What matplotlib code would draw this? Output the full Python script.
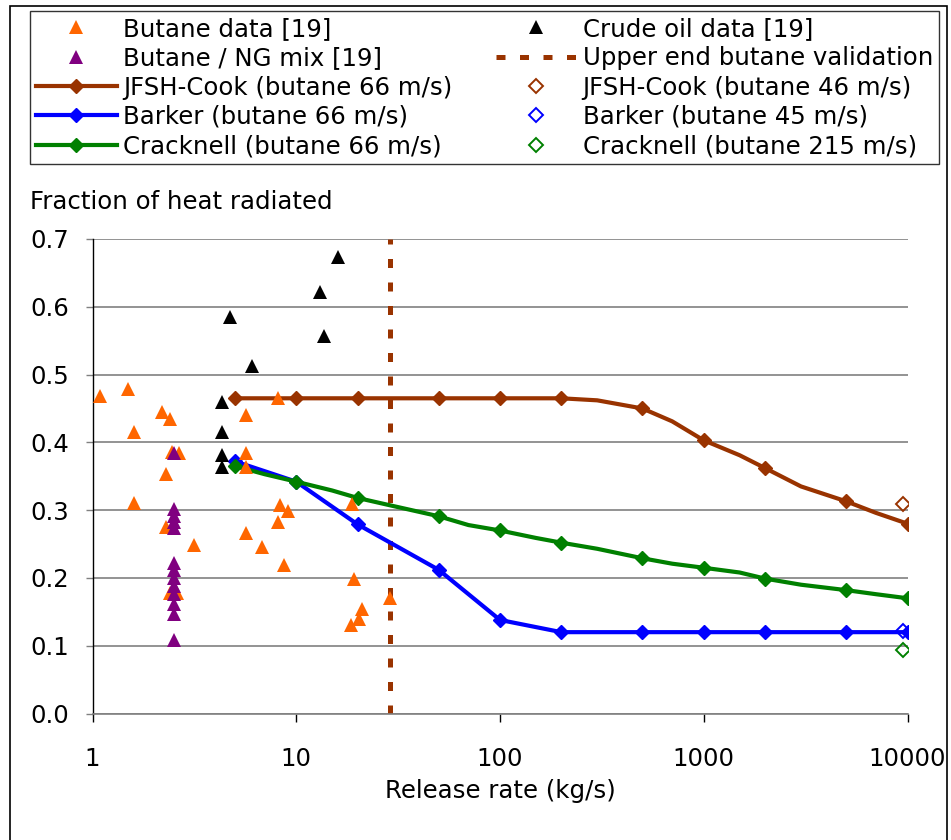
import matplotlib
matplotlib.use("Agg")
import matplotlib.pyplot as plt
from matplotlib.ticker import FixedLocator, FixedFormatter, NullLocator
from matplotlib.patches import Rectangle

# ---------------- data ----------------
butane_rate = [1.09, 1.50, 2.19, 2.40, 1.60, 2.45, 2.67, 2.29, 1.60, 2.30, 3.15,
               2.40, 2.60, 5.68, 5.68, 5.68, 8.16, 8.32, 9.14, 8.16, 5.68, 6.81,
               8.73, 18.8, 19.2, 28.9, 21.1, 20.3, 18.5]
butane_frac = [0.469, 0.478, 0.445, 0.434, 0.416, 0.386, 0.384, 0.353, 0.310, 0.275, 0.249,
               0.178, 0.178, 0.440, 0.384, 0.363, 0.465, 0.308, 0.298, 0.283, 0.266, 0.246,
               0.219, 0.309, 0.198, 0.171, 0.154, 0.140, 0.131]

crude_rate = [4.33, 4.33, 4.33, 4.33, 16.1, 13.1, 4.75, 13.7, 6.08]
crude_frac = [0.460, 0.416, 0.381, 0.364, 0.673, 0.622, 0.585, 0.557, 0.513]

mix_rate = [2.5] * 13
mix_frac = [0.385, 0.302, 0.292, 0.283, 0.274, 0.222, 0.212, 0.200, 0.188, 0.176,
            0.162, 0.147, 0.108]

validation_rate = 29
validation_range = [0.0, 0.7]

model_rate = [5, 7, 10, 15, 20, 30, 50, 70, 100, 150, 200, 300, 500, 700, 1000,
              1500, 2000, 3000, 5000, 7000, 10000]
jfsh_frac = [0.465, 0.465, 0.465, 0.465, 0.465, 0.465, 0.465, 0.465, 0.465, 0.465,
             0.465, 0.462, 0.450, 0.431, 0.403, 0.381, 0.362, 0.335, 0.313, 0.296, 0.280]
cracknell_frac = [0.365, 0.353, 0.342, 0.329, 0.318, 0.306, 0.291, 0.278, 0.270, 0.259,
                  0.252, 0.243, 0.229, 0.221, 0.215, 0.208, 0.199, 0.190, 0.182, 0.176, 0.170]

barker_rate = [5, 10, 20, 50, 100, 200, 500, 1000, 2000, 5000, 10000]
barker_frac = [0.372, 0.342, 0.279, 0.212, 0.138, 0.120, 0.120, 0.120, 0.120, 0.120, 0.120]

alt_rate = [9500]
jfsh_alt = [0.309]
barker_alt = [0.121]
cracknell_alt = [0.094]

x_ticks = [1, 10, 100, 1000, 10000]
x_tick_labels = ["1", "10", "100", "1000", "10000"]
y_ticks = [0.0, 0.1, 0.2, 0.3, 0.4, 0.5, 0.6, 0.7]

# ---------------- style ----------------
FS = 17.6
plt.rcParams['font.family'] = ['DejaVu Sans']
ORANGE = '#FF6600'
PURPLE = '#800080'
BROWN = '#993300'
BLUE = '#0000FF'
GREEN = '#008000'

W, H = 951, 840
fig = plt.figure(figsize=(W / 100, H / 100), dpi=100)
ax = fig.add_axes([92.5 / W, (H - 713.5) / H, 815 / W, 474.5 / H])

ax.set_xscale('log')
ax.set_xlim(1, 10000)
ax.set_ylim(0, 0.7)

LW = 3.0
MS = 7.0
l_jfsh, = ax.plot(model_rate, jfsh_frac, color=BROWN, lw=LW, marker='D', ms=MS,
                  markevery=2, solid_joinstyle='round', zorder=3,
                  label='JFSH-Cook (butane 66 m/s)')
l_barker, = ax.plot(barker_rate, barker_frac, color=BLUE, lw=LW, marker='D', ms=MS,
                    solid_joinstyle='round', zorder=3, label='Barker (butane 66 m/s)')
l_crack, = ax.plot(model_rate, cracknell_frac, color=GREEN, lw=LW, marker='D', ms=MS,
                   markevery=2, solid_joinstyle='round', zorder=3,
                   label='Cracknell (butane 66 m/s)')

h_jfsh_alt, = ax.plot(alt_rate, jfsh_alt, ls='none', marker='D', ms=MS, mfc='none',
                      mec=BROWN, mew=1.4, zorder=4, label='JFSH-Cook (butane 46 m/s)')
h_barker_alt, = ax.plot(alt_rate, barker_alt, ls='none', marker='D', ms=MS, mfc='none',
                        mec=BLUE, mew=1.4, zorder=4, label='Barker (butane 45 m/s)')
h_crack_alt, = ax.plot(alt_rate, cracknell_alt, ls='none', marker='D', ms=MS, mfc='none',
                       mec=GREEN, mew=1.4, zorder=4, label='Cracknell (butane 215 m/s)')

h_val, = ax.plot([validation_rate, validation_rate], validation_range, color=BROWN,
                 lw=3.6, dashes=(1.8, 2.9), zorder=2.5,
                 label='Upper end butane validation')

TMS = 10
h_but, = ax.plot(butane_rate, butane_frac, ls='none', marker='^', ms=TMS, color=ORANGE,
                 mew=0, zorder=5, label='Butane data [19]')
h_crude, = ax.plot(crude_rate, crude_frac, ls='none', marker='^', ms=TMS, color='black',
                   mew=0, zorder=5, label='Crude oil data [19]')
h_mix, = ax.plot(mix_rate, mix_frac, ls='none', marker='^', ms=TMS, color=PURPLE,
                 mew=0, zorder=6, label='Butane / NG mix [19]')

# axes styling
ax.xaxis.set_major_locator(FixedLocator(x_ticks))
ax.xaxis.set_major_formatter(FixedFormatter(x_tick_labels))
ax.xaxis.set_minor_locator(NullLocator())
ax.yaxis.set_major_locator(FixedLocator(y_ticks))
ax.yaxis.set_major_formatter(plt.FuncFormatter(lambda v, p: f"{v:.1f}"))
ax.tick_params(axis='x', direction='out', length=6, width=1, labelsize=FS, pad=18,
               color='black')
ax.tick_params(axis='y', direction='out', length=5, width=1, labelsize=FS, pad=11.5,
               color='#808080')
ax.yaxis.grid(True, color='#808080', lw=1.2, zorder=0)
ax.set_axisbelow(True)
for s in ['top', 'right']:
    ax.spines[s].set_visible(False)
ax.spines['left'].set_color('black')
ax.spines['left'].set_linewidth(1.0)
ax.spines['bottom'].set_color('#808080')
ax.spines['bottom'].set_linewidth(1.2)

ax.set_xlabel('Release rate (kg/s)', fontsize=FS, labelpad=6)
fig.text(30 / W, 1 - 202 / H, 'Fraction of heat radiated', fontsize=FS,
         ha='left', va='center')

# legend (row-major order like original, matplotlib fills column-major)
handles = [h_but, h_mix, l_jfsh, l_barker, l_crack,
           h_crude, h_val, h_jfsh_alt, h_barker_alt, h_crack_alt]
leg = fig.legend(handles=handles, labels=[h.get_label() for h in handles],
                 ncol=2, loc='upper left', mode='expand',
                 bbox_to_anchor=(30 / W, 0, 909 / W, 1 - 10.7 / H),
                 fontsize=FS, numpoints=1, handlelength=3.3, handletextpad=0.25,
                 borderpad=0.25, labelspacing=0.22, borderaxespad=0,
                 frameon=True, fancybox=False, edgecolor='black')
leg.get_frame().set_linewidth(1.0)

# outer border
fig.add_artist(Rectangle((10 / W, -0.05), 937 / W, 1.05 - 6 / H, transform=fig.transFigure,
                         fill=False, edgecolor='black', lw=1.2))

fig.savefig('out.png', dpi=100)
